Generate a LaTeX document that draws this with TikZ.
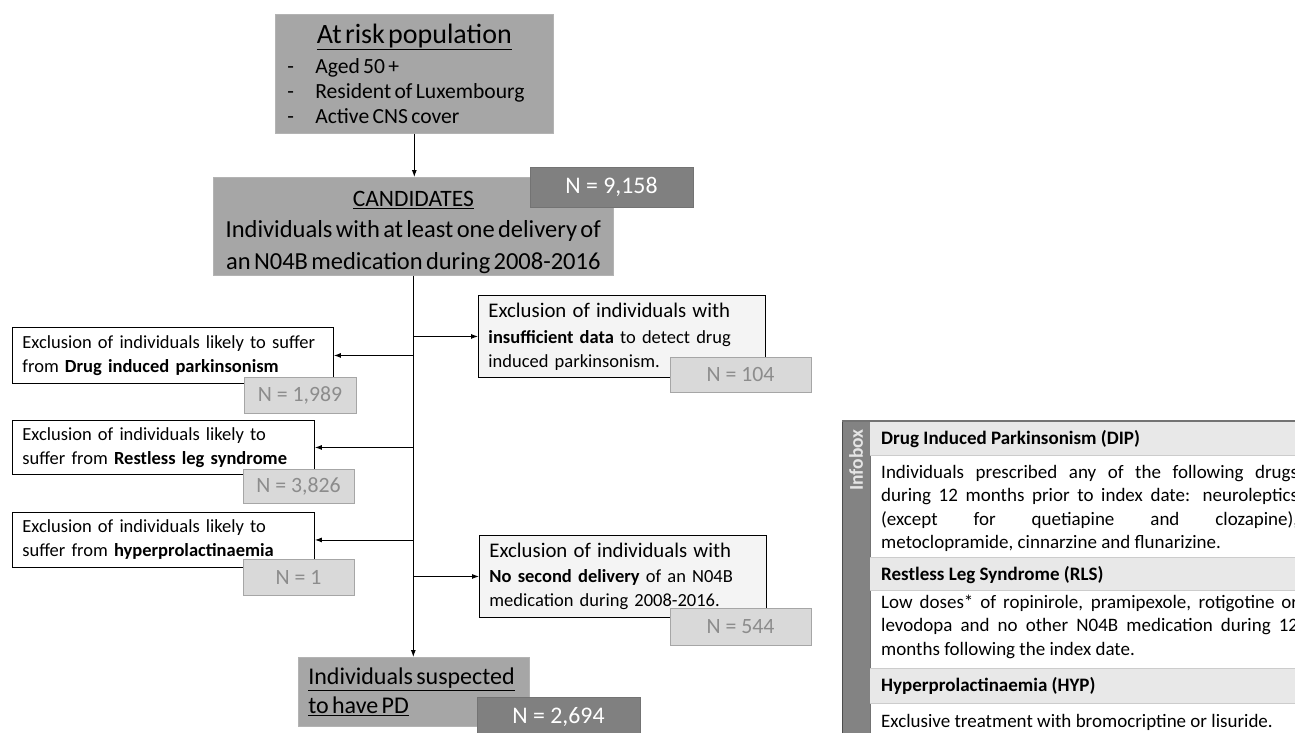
\documentclass[tikz,border=0pt]{standalone}
\usepackage{fontspec}
\setmainfont{Carlito}
\usetikzlibrary{arrows.meta}
\definecolor{boxgray}{HTML}{A6A6A6}
\definecolor{ndark}{HTML}{808080}
\definecolor{nlightfill}{HTML}{D9D9D9}
\definecolor{nlighttext}{HTML}{8C8C8C}
\definecolor{exfill}{HTML}{F4F4F4}
\definecolor{headfill}{HTML}{E8E8E8}
\definecolor{sidefill}{HTML}{838383}
\newcommand\fsEx{\fontsize{18.5}{24}\selectfont}
\newcommand\fsExBig{\fontsize{20.8}{24}\selectfont}
\newcommand\fsN{\fontsize{21.8}{26}\selectfont}
\newcommand\fsND{\fontsize{23.8}{28}\selectfont}
\newcommand\fsInfo{\fontsize{19}{23.5}\selectfont}
\begin{document}
\begin{tikzpicture}[x=1pt,y=-1pt,
  arr/.style={-{Latex[length=7pt,width=5pt]}, line width=0.9pt},
  graybox/.style={fill=boxgray, draw=boxgray!85!white, line width=0.6pt, inner ysep=0pt},
  exbox/.style={draw=black, line width=0.9pt, fill=white, inner xsep=10pt, inner ysep=0pt, align=left, anchor=north west, font=\fsEx},
  exboxR/.style={exbox, fill=exfill},
  nlight/.style={fill=nlightfill, draw=boxgray, line width=0.8pt, text=nlighttext, font=\fsN, inner sep=0pt},
  ndarkbox/.style={fill=ndark, draw=ndark!90!black, line width=0.6pt, text=white, font=\fsND, inner sep=0pt},
  hdr/.style={font=\fontsize{19}{23}\selectfont\bfseries, anchor=base west, inner sep=0pt},
  infobody/.style={font=\fsInfo, anchor=base west, inner sep=0pt, align=justify, text width=417pt}
]
\useasboundingbox (0,0) rectangle (1295,733);
\clip (0,0) rectangle (1295,733);
\fill[white] (0,0) rectangle (1295,733);

% ---------- main flow ----------
\node[graybox, anchor=north west, text width=254pt, inner xsep=12pt, minimum height=119pt, align=left] (risk) at (275,14)
 {{\centering\fontsize{28}{32}\selectfont\underline{At risk population}\par}\vspace{5pt}
  \fontsize{21.6}{25}\selectfont
  \makebox[28pt][l]{-}Aged 50 +\\
  \makebox[28pt][l]{-}Resident of Luxembourg\\
  \makebox[28pt][l]{-}Active CNS cover\par};

\node[graybox, anchor=north west, text width=400pt, inner xsep=0pt, minimum height=98pt, align=center] (cand) at (213,177)
 {\fontsize{23.5}{28}\selectfont\rule{0pt}{27pt}\underline{CANDIDATES}\\
  \fontsize{24.5}{31.5}\selectfont Individuals with at least one delivery of\\
  an N04B medication during 2008-2016\par};
\node[ndarkbox, minimum width=163pt, minimum height=40pt] (ncand) at (611.5,187) {N = 9,158};

\node[graybox, anchor=north west, text width=211pt, inner xsep=10pt, minimum height=69pt, align=left] (pd) at (298,657)
 {\fontsize{24}{29}\selectfont\underline{Individuals suspected}\\\underline{to have PD}\par};
\node[ndarkbox, minimum width=163pt, minimum height=40pt] (npd) at (558.5,717) {N = 2,694};

% exclusion boxes
\node[exbox, text width=301pt, minimum height=56pt] (dip) at (12,327)
 {Exclusion of individuals likely to suffer\\from \textbf{Drug induced parkinsonism}\par};
\node[exbox, text width=282pt, minimum height=54pt] (rls) at (12,420)
 {Exclusion of individuals likely to\\suffer from \textbf{Restless leg syndrome}\par};
\node[exbox, text width=282pt, minimum height=55pt] (hyp) at (12,512)
 {Exclusion of individuals likely to\\suffer from \textbf{hyperprolactinaemia}\par};
\node[exboxR, text width=267pt, minimum height=82pt] (ins) at (478,295)
 {\mbox{\fsExBig Exclusion of individuals with}\\[2pt]
  \mbox{\textbf{insufficient data} to detect drug}\\
  \mbox{induced parkinsonism.}\par};
\node[exboxR, text width=267pt, minimum height=82pt] (sec) at (479,535)
 {\mbox{\fsExBig Exclusion of individuals with}\\[1pt]
  \mbox{\textbf{No second delivery} of an N04B}\\
  \mbox{medication during 2008-2016.}\par};

\node[nlight, minimum width=112pt, minimum height=36pt] (ndip) at (300,395) {N = 1,989};
\node[nlight, minimum width=111pt, minimum height=34pt] (nrls) at (298.5,486) {N = 3,826};
\node[nlight, minimum width=111pt, minimum height=36pt] (nhyp) at (298.5,577) {N = 1};
\node[nlight, minimum width=141pt, minimum height=35pt] (nins) at (740.5,374.5) {N = 104};
\node[nlight, minimum width=141pt, minimum height=37pt] (nsec) at (740.5,626.5) {N = 544};

% connectors
\draw[arr] (risk.south) -- (risk.south |- cand.north);
\draw[arr] (cand.south) -- (cand.south |- pd.north);
\draw[arr] (cand.south |- dip.east) -- (dip.east);
\draw[arr] (cand.south |- rls.east) -- (rls.east);
\draw[arr] (cand.south |- hyp.east) -- (hyp.east);
\draw[arr] (cand.south |- ins.west) -- (ins.west);
\draw[arr] (cand.south |- sec.west) -- (sec.west);

% ---------- infobox ----------
\fill[sidefill] (842,421) rectangle (870,740);
\draw[black!70, line width=1.2pt] (842.6,421) -- (842.6,740);
\draw[black!55, line width=0.6pt] (870,421) -- (870,740);
\fill[headfill] (870,421) rectangle (1300,455);
\fill[headfill] (870,557) rectangle (1300,590);
\fill[headfill] (870,668) rectangle (1300,703);
\draw[black!20, line width=0.6pt] (870,455) -- (1300,455) (870,557) -- (1300,557)
  (870,590) -- (1300,590) (870,668) -- (1300,668) (870,703) -- (1300,703);
\draw[black!55, line width=1.6pt] (842,421) -- (1300,421);
\node[rotate=90, font=\fontsize{19.5}{23}\selectfont\bfseries, text=black!10, inner sep=0pt] (ibox) at (856,460) {Infobox};

\node[hdr] (hdip) at (881,444) {Drug Induced Parkinsonism (DIP)};
\node[infobody] (bdip) at (881,478)
 {Individuals prescribed any of the following drugs\linebreak
  during 12 months prior to index date: neuroleptics\linebreak
  (except for quetiapine and clozapine),\linebreak
  metoclopramide, cinnarzine and flunarizine.};
\node[hdr] (hrls) at (881,580) {Restless Leg Syndrome (RLS)};
\node[infobody] (brls) at (881,608)
 {Low doses* of ropinirole, pramipexole, rotigotine or\linebreak
  levodopa and no other N04B medication during 12\linebreak
  months following the index date.};
\node[hdr] (hhyp) at (881,691) {Hyperprolactinaemia (HYP)};
\node[infobody] (bhyp) at (881,727)
 {Exclusive treatment with bromocriptine or lisuride.};
\end{tikzpicture}
\end{document}
